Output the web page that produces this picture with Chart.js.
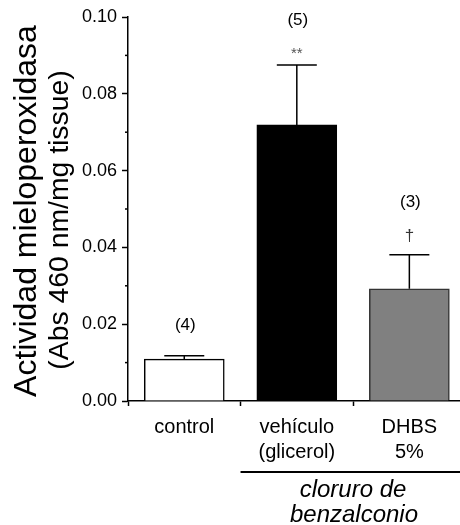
<!DOCTYPE html>
<html>
<head>
<meta charset="utf-8">
<script src="https://cdn.jsdelivr.net/npm/chart.js@4/dist/chart.umd.min.js"></script>
<style>
    body { margin: 0; background: #fff; }
    #wrap { width: 460px; height: 525px; }
</style>
</head>
<body>
<div id="wrap"><canvas id="grafico" width="460" height="525"></canvas></div>
<script>
// Datos
const categorias = [['control'], ['vehículo', '(glicerol)'], ['DHBS', '5%']];
const valores = [0.0109, 0.0719, 0.0292];
const errores = [0.0009, 0.0156, 0.0089];
const nLabels = ['(4)', '(5)', '(3)'];
const significancia = ['', '**', '†'];
const ticksY = [0, 0.01, 0.02, 0.03, 0.04, 0.05, 0.06, 0.07, 0.08, 0.09, 0.10];
const tituloY = 'Actividad mieloperoxidasa';
const subtituloY = '(Abs 460 nm/mg tissue)';
const grupo = ['cloruro de', 'benzalconio'];

const FUENTE = '"Liberation Sans", Arial, sans-serif';

const extras = {
    id: 'extras',
    afterDatasetsDraw(chart) {
        const ctx = chart.ctx;
        const x = chart.scales.x;
        const y = chart.scales.y;
        const area = chart.chartArea;
        ctx.save();

        // barras de error (solo hacia arriba)
        ctx.strokeStyle = '#000';
        ctx.lineWidth = 1.5;
        valores.forEach((v, i) => {
            const px = x.getPixelForValue(i);
            const yBar = y.getPixelForValue(v);
            const yTop = y.getPixelForValue(v + errores[i]);
            ctx.beginPath();
            ctx.moveTo(px, yBar);
            ctx.lineTo(px, yTop);
            ctx.moveTo(px - 20, yTop);
            ctx.lineTo(px + 20, yTop);
            ctx.stroke();
        });

        // n y significancia
        const offN = [-30.5, -44.5, -52];
        const offSig = [0, -11, -18.5];
        ctx.textAlign = 'center';
        ctx.textBaseline = 'middle';
        valores.forEach((v, i) => {
            const px = x.getPixelForValue(i);
            const yTop = y.getPixelForValue(v + errores[i]);
            ctx.fillStyle = '#000';
            ctx.font = '17px ' + FUENTE;
            ctx.fillText(nLabels[i], px + 1, yTop + offN[i]);
            if (significancia[i]) {
                ctx.fillStyle = i === 1 ? '#555' : '#333';
                ctx.font = (i === 1 ? '15px ' : '17px ') + FUENTE;
                ctx.fillText(significancia[i], px, yTop + offSig[i]);
            }
        });

        // ticks menores del eje y
        ctx.lineWidth = 1.5;
        ctx.strokeStyle = '#000';
        ticksY.forEach((t, i) => {
            if (i % 2 === 0) return;
            const py = y.getPixelForValue(t);
            ctx.beginPath();
            ctx.moveTo(area.left - 3, py);
            ctx.lineTo(area.left, py);
            ctx.stroke();
        });

        // etiquetas de categorias
        ctx.fillStyle = '#000';
        ctx.textBaseline = 'alphabetic';
        ctx.font = '20px ' + FUENTE;
        categorias.forEach((lineas, i) => {
            const px = x.getPixelForValue(i);
            lineas.forEach((t, j) => {
                ctx.fillText(t, px, 433 + j * 25);
            });
        });

        // linea del grupo y texto en cursiva
        const x0 = x.getPixelForValue(0.5);
        ctx.lineWidth = 2.2;
        ctx.beginPath();
        ctx.moveTo(x0, 472);
        ctx.lineTo(chart.width, 472);
        ctx.stroke();
        ctx.font = 'italic 24px ' + FUENTE;
        ctx.fillText(grupo[0], 353, 497);
        ctx.fillText(grupo[1], 354, 522);

        // titulos del eje y
        ctx.translate(36, 211);
        ctx.rotate(-Math.PI / 2);
        ctx.font = '32px ' + FUENTE;
        ctx.fillText(tituloY, 0, 0);
        ctx.rotate(Math.PI / 2);
        ctx.translate(32, 9);
        ctx.rotate(-Math.PI / 2);
        ctx.scale(1.05, 1);
        ctx.font = '27px ' + FUENTE;
        ctx.fillText(subtituloY, 0, 0);

        ctx.restore();
    }
};

new Chart(document.getElementById('grafico'), {
    type: 'bar',
    data: {
        datasets: [{
            data: valores.map((v, i) => ({ x: i, y: v })),
            backgroundColor: ['#ffffff', '#000000', '#808080'],
            borderColor: ['#000000', '#000000', '#333333'],
            borderWidth: 1.5,
            barThickness: 80
        }]
    },
    options: {
        responsive: false,
        devicePixelRatio: 1,
        animation: false,
        layout: { padding: { top: 17, right: 0, left: 0, bottom: 0 } },
        plugins: {
            legend: { display: false },
            tooltip: { enabled: false }
        },
        scales: {
            x: {
                type: 'linear',
                offset: false,
                min: -0.5,
                max: 2.45,
                afterBuildTicks: scale => {
                    scale.ticks = [-0.5, 0.5, 1.5].map(v => ({ value: v }));
                },
                afterFit: scale => { scale.height = 124; },
                ticks: { display: false },
                grid: {
                    offset: false,
                    drawOnChartArea: false,
                    drawTicks: true,
                    tickLength: 5,
                    tickWidth: 1.5,
                    tickColor: '#000'
                },
                border: { color: '#000', width: 1.5 }
            },
            y: {
                min: 0,
                max: 0.1,
                afterBuildTicks: scale => {
                    scale.ticks = ticksY.map(v => ({ value: v }));
                },
                afterFit: scale => { scale.width = 128; },
                ticks: {
                    color: '#000',
                    padding: 5,
                    font: { family: FUENTE, size: 18 },
                    callback: (value, index) => index % 2 === 0 ? value.toFixed(2) : ''
                },
                grid: {
                    drawOnChartArea: false,
                    tickLength: 6,
                    tickWidth: 1.5,
                    tickColor: c => (c.index % 2 === 0 ? '#000' : 'rgba(0,0,0,0)')
                },
                border: { color: '#000', width: 1.5 }
            }
        }
    },
    plugins: [extras]
});
</script>
</body>
</html>
